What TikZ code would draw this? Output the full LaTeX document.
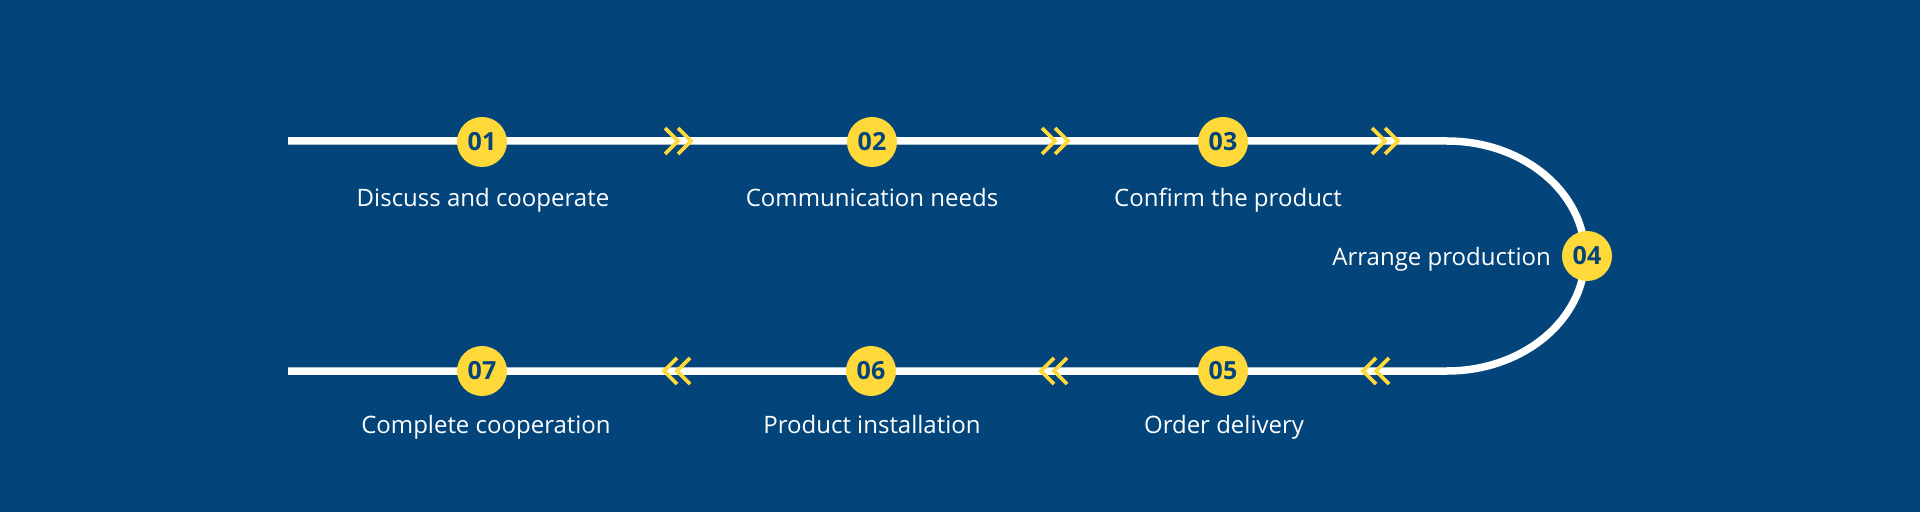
\documentclass[tikz,border=0pt]{standalone}
\usepackage{fontspec}
\setmainfont{Open Sans}
\definecolor{bgblue}{HTML}{03457A}
\definecolor{gold}{HTML}{FFD83A}
\tikzset{
  track/.style={draw=white, line width=7.5pt},
  numdot/.style={circle, fill=gold, minimum size=50pt, inner sep=0pt,
    text=bgblue, font=\fontsize{25pt}{25pt}\selectfont\bfseries},
  steplabel/.style={text=white, font=\fontsize{24pt}{24pt}\selectfont, anchor=base, inner sep=0pt},
  chev/.style={draw=gold, line width=3.6pt},
  chevR/.pic={\draw[chev] (-13,-13) -- (0,0) -- (-13,13);
              \draw[chev] (0,-13) -- (13,0) -- (0,13);},
  chevL/.pic={\draw[chev] (13,-13) -- (0,0) -- (13,13);
              \draw[chev] (0,-13) -- (-13,0) -- (0,13);}
}
\begin{document}
\begin{tikzpicture}[x=1pt,y=1pt]
\fill[bgblue] (0,0) rectangle (1920,512);
\useasboundingbox (0,0) rectangle (1920,512);
% track coordinates
\coordinate (ts) at (288,371);
\coordinate (te) at (1447,371);
\coordinate (be) at (1447,141);
\coordinate (bs) at (288,141);
\draw[track] (ts) -- (te) arc[start angle=90, end angle=-90, x radius=138, y radius=115] -- (bs);
% chevrons
\pic at (678,371) {chevR};
\pic at (1055,371) {chevR};
\pic at (1385,371) {chevR};
\pic at (1376,141) {chevL};
\pic at (1054,141) {chevL};
\pic at (677,141) {chevL};
% number circles
\node[numdot] (c1) at (482,370) {01};
\node[numdot] (c2) at (872,370) {02};
\node[numdot] (c3) at (1223,370) {03};
\node[numdot] (c4) at (1587,256) {04};
\node[numdot] (c5) at (1223,141) {05};
\node[numdot] (c6) at (871,141) {06};
\node[numdot] (c7) at (482,141) {07};
% labels
\node[steplabel] (t1) at (483,305) {Discuss and cooperate};
\node[steplabel] (t2) at (872,305) {Communication needs};
\node[steplabel] (t3) at (1228,305) {Confirm the product};
\node[steplabel, anchor=base east] (t4) at (1551,246) {Arrange production};
\node[steplabel] (t5) at (1224,79) {Order delivery};
\node[steplabel] (t6) at (872,79) {Product installation};
\node[steplabel] (t7) at (486,79) {Complete cooperation};
\end{tikzpicture}
\end{document}
